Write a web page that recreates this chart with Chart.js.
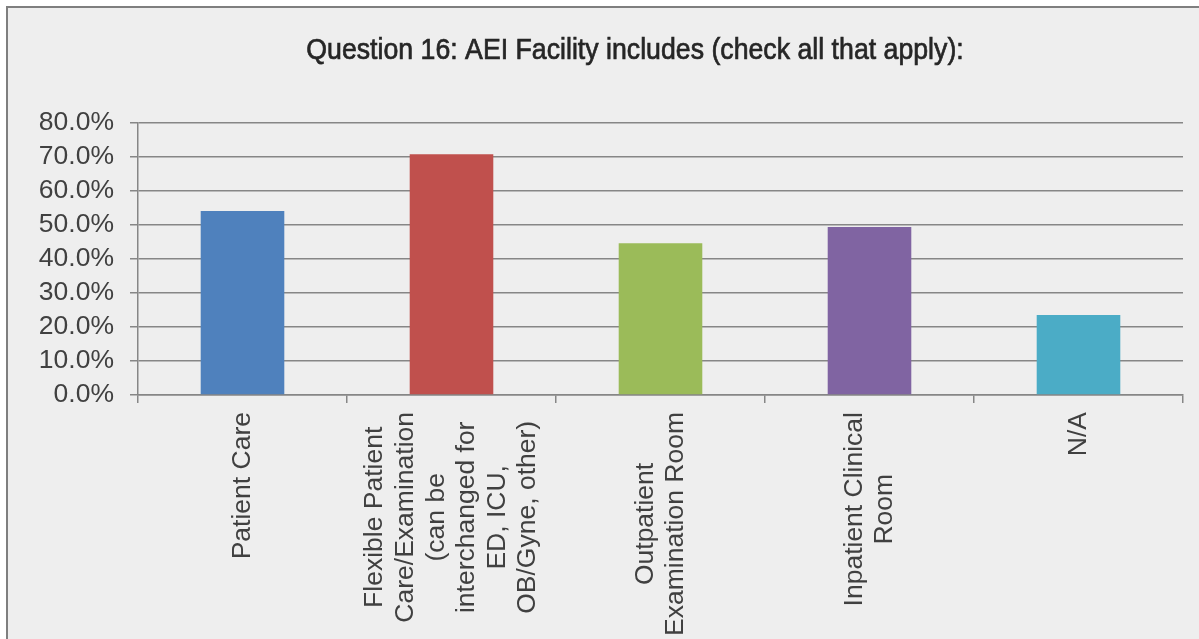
<!DOCTYPE html>
<html>
<head>
<meta charset="utf-8">
<script src="https://cdn.jsdelivr.net/npm/chart.js@4"></script>
<style>
  html, body { margin: 0; padding: 0; background: #ffffff; overflow: hidden; }
  #wrap { position: absolute; left: 6px; top: 6px; width: 1193px; height: 633px;
          background: #eeeeee; border-left: 2px solid #7f7f7f; border-top: 2px solid #7f7f7f; }
  #c { display: block; }
</style>
</head>
<body>
<div id="wrap"><canvas id="c" width="1191" height="631"></canvas></div>
<script>
const TITLE = "Question 16: AEI Facility includes (check all that apply):";
const categories = [
  ["Patient Care"],
  ["Flexible Patient", "Care/Examination", "(can be", "interchanged for", "ED, ICU,", "OB/Gyne, other)"],
  ["Outpatient", "Examination Room"],
  ["Inpatient Clinical", "Room"],
  ["N/A"]
];
const values = [54.1, 70.8, 44.6, 49.4, 23.5];
const barColors = ["#4F81BD", "#C0504D", "#9BBB59", "#8064A2", "#4BACC6"];
const yTicks = [0, 10, 20, 30, 40, 50, 60, 70, 80];

const FONT = "'Liberation Sans', Arial, sans-serif";

const titlePlugin = {
  id: 'narrowTitle',
  afterDraw(chart) {
    const ctx = chart.ctx;
    ctx.save();
    ctx.font = "30px " + FONT;
    ctx.fillStyle = "#262626";
    ctx.strokeStyle = "#262626";
    ctx.lineWidth = 0.7;
    ctx.textBaseline = "alphabetic";
    ctx.textAlign = "center";
    ctx.translate(627, 51);
    ctx.scale(0.89, 1);
    ctx.fillText(TITLE, 0, 0);
    ctx.strokeText(TITLE, 0, 0);
    ctx.restore();
  }
};

const xLabelPlugin = {
  id: 'xLabels',
  afterDraw(chart) {
    const ctx = chart.ctx;
    const xs = chart.scales.x;
    const top = chart.chartArea.bottom + 17;
    const lh = 30.6;
    ctx.save();
    ctx.font = "26.5px " + FONT;
    ctx.fillStyle = "#404040";
    ctx.textAlign = "center";
    ctx.textBaseline = "middle";
    categories.forEach((lines, i) => {
      const cx = xs.getPixelForValue(i);
      let maxW = 0;
      lines.forEach(l => { maxW = Math.max(maxW, ctx.measureText(l).width); });
      ctx.save();
      ctx.translate(cx, top + maxW / 2);
      ctx.rotate(-Math.PI / 2);
      const n = lines.length;
      lines.forEach((l, j) => {
        ctx.fillText(l, 0, (j - (n - 1) / 2) * lh);
      });
      ctx.restore();
    });
    ctx.restore();
  }
};

new Chart(document.getElementById('c'), {
  type: 'bar',
  data: {
    labels: categories,
    datasets: [{
      data: values,
      backgroundColor: barColors,
      borderWidth: 0,
      barPercentage: 0.4,
      categoryPercentage: 1.0
    }]
  },
  options: {
    responsive: false,
    animation: false,
    devicePixelRatio: 1,
    layout: { padding: { top: 115, right: 16, left: 0, bottom: 0 } },
    plugins: { legend: { display: false }, title: { display: false }, tooltip: { enabled: false } },
    scales: {
      x: {
        offset: true,
        grid: { offset: true, drawOnChartArea: false, drawTicks: true, tickLength: 8, color: '#868686', lineWidth: 1.5 },
        border: { display: true, color: '#868686', width: 1.5 },
        ticks: { display: false },
        afterFit(scale) { scale.height = 244; }
      },
      y: {
        min: 0, max: 80,
        afterBuildTicks(scale) { scale.ticks = yTicks.map(v => ({ value: v })); },
        grid: { color: '#868686', lineWidth: 1.5, drawTicks: true, tickLength: 8 },
        border: { display: true, color: '#868686', width: 1.5 },
        ticks: {
          autoSkip: false,
          color: '#404040',
          font: { family: FONT, size: 26.5 },
          padding: 16,
          callback: v => v.toFixed(1) + '%'
        },
        afterFit(scale) { scale.width = 130; }
      }
    }
  },
  plugins: [titlePlugin, xLabelPlugin]
});
</script>
</body>
</html>
